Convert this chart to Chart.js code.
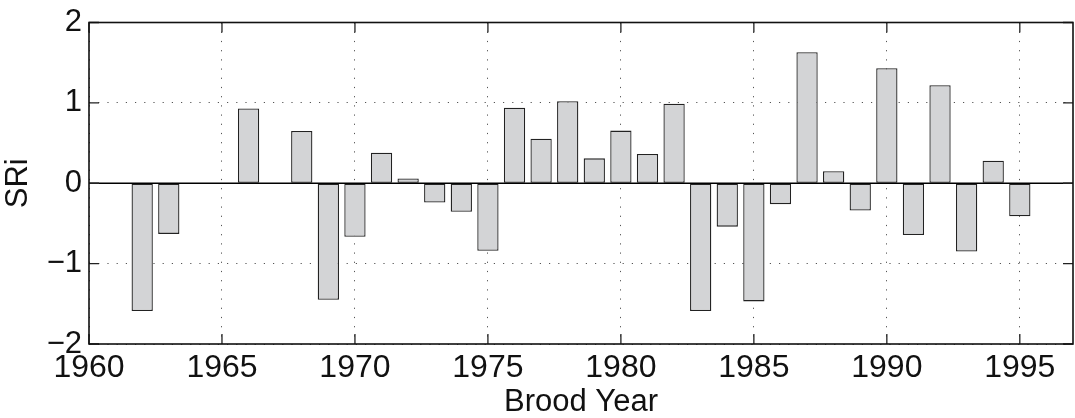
<!DOCTYPE html>
<html>
<head>
<meta charset="utf-8">
<title>SRi by brood year</title>
<script src="https://cdn.jsdelivr.net/npm/chart.js@4"></script>
<style>
  html, body { margin: 0; padding: 0; background: #fff; }
  #grafico { display: block; }
</style>
</head>
<body>
<canvas id="grafico" width="1075" height="418"></canvas>
<script>
// === DATI ===
const anni = [1961, 1962, 1963, 1964, 1965, 1966, 1967, 1968, 1969, 1970,
              1971, 1972, 1973, 1974, 1975, 1976, 1977, 1978, 1979, 1980,
              1981, 1982, 1983, 1984, 1985, 1986, 1987, 1988, 1989, 1990,
              1991, 1992, 1993, 1994, 1995, 1996];
const valoriSRi = [0, -1.59, -0.63, 0, 0, 0.93, 0, 0.65, -1.45, -0.665,
                   0.38, 0.06, -0.24, -0.355, -0.84, 0.94, 0.555, 1.02, 0.31, 0.655,
                   0.365, 0.99, -1.59, -0.54, -1.47, -0.26, 1.63, 0.15, -0.34, 1.43,
                   -0.645, 1.22, -0.85, 0.28, -0.41, 0];
const tickAnni = [1960, 1965, 1970, 1975, 1980, 1985, 1990, 1995];
const tickSRi = [-2, -1, 0, 1, 2];

const FONT = "'Liberation Sans', Arial, sans-serif";
const meno = v => (v < 0 ? '\u2212' + Math.abs(v) : String(v));

// === CORNICE, TACCHE INTERNE E LINEA DELLO ZERO ===
const cornice = {
  id: 'cornice',
  afterDatasetsDraw(chart) {
    const { ctx, chartArea: a, scales: { x, y } } = chart;
    ctx.save();
    // linea dello zero
    const y0 = y.getPixelForValue(0);
    ctx.strokeStyle = '#000';
    ctx.lineWidth = 1.6;
    ctx.beginPath();
    ctx.moveTo(a.left, y0);
    ctx.lineTo(a.right, y0);
    ctx.stroke();

    // tacche verso l'interno
    const L = 10;
    ctx.lineWidth = 1.3;
    ctx.strokeStyle = '#222';
    ctx.beginPath();
    tickAnni.forEach(v => {
      const px = x.getPixelForValue(v);
      ctx.moveTo(px, a.bottom); ctx.lineTo(px, a.bottom - L);
      ctx.moveTo(px, a.top); ctx.lineTo(px, a.top + L);
    });
    tickSRi.forEach(v => {
      const py = y.getPixelForValue(v);
      ctx.moveTo(a.left, py); ctx.lineTo(a.left + L, py);
      ctx.moveTo(a.right, py); ctx.lineTo(a.right - L, py);
    });
    ctx.stroke();

    // cornice
    ctx.lineWidth = 1.6;
    ctx.strokeStyle = '#111';
    ctx.strokeRect(a.left, a.top, a.right - a.left, a.bottom - a.top);
    ctx.restore();
  }
};

new Chart(document.getElementById('grafico').getContext('2d'), {
  type: 'bar',
  data: {
    labels: anni,
    datasets: [{
      label: 'SRi',
      data: anni.map((a, i) => ({ x: a, y: valoriSRi[i] })),
      backgroundColor: '#d3d4d6',
      borderColor: '#222',
      borderWidth: 1.3,
      borderSkipped: false,
      barPercentage: 0.8,
      categoryPercentage: 1
    }]
  },
  options: {
    responsive: false,
    animation: false,
    layout: { autoPadding: false, padding: { top: 18, right: 2, left: 0, bottom: 0 } },
    plugins: {
      legend: { display: false },
      tooltip: { enabled: false }
    },
    scales: {
      x: {
        type: 'linear',
        min: 1960,
        max: 1997,
        offset: false,
        grid: { offset: false, color: '#555', lineWidth: 1, drawTicks: false },
        border: { display: false, dash: [1.2, 8] },
        afterBuildTicks: s => { s.ticks = tickAnni.map(v => ({ value: v })); },
        ticks: {
          includeBounds: false,
          padding: 8,
          color: '#111',
          font: { family: FONT, size: 32, lineHeight: 1 },
          maxRotation: 0,
          callback: v => String(v)
        },
        title: {
          display: true,
          text: 'Brood Year',
          color: '#111',
          font: { family: FONT, size: 31, lineHeight: 1 },
          padding: { top: 0, bottom: 0 }
        },
        afterFit: s => { s.height = 74; }
      },
      y: {
        min: -2,
        max: 2,
        grid: { color: '#555', lineWidth: 1, drawTicks: false },
        border: { display: false, dash: [1.2, 8] },
        afterBuildTicks: s => { s.ticks = tickSRi.map(v => ({ value: v })); },
        ticks: {
          padding: 7,
          color: '#111',
          font: { family: FONT, size: 31, lineHeight: 1 },
          callback: v => meno(v)
        },
        title: {
          display: true,
          text: 'SRi',
          color: '#111',
          font: { family: FONT, size: 31, lineHeight: 1 },
          padding: { top: 3, bottom: 0 }
        },
        afterFit: s => { s.width = 89; }
      }
    }
  },
  plugins: [cornice]
});
</script>
</body>
</html>
